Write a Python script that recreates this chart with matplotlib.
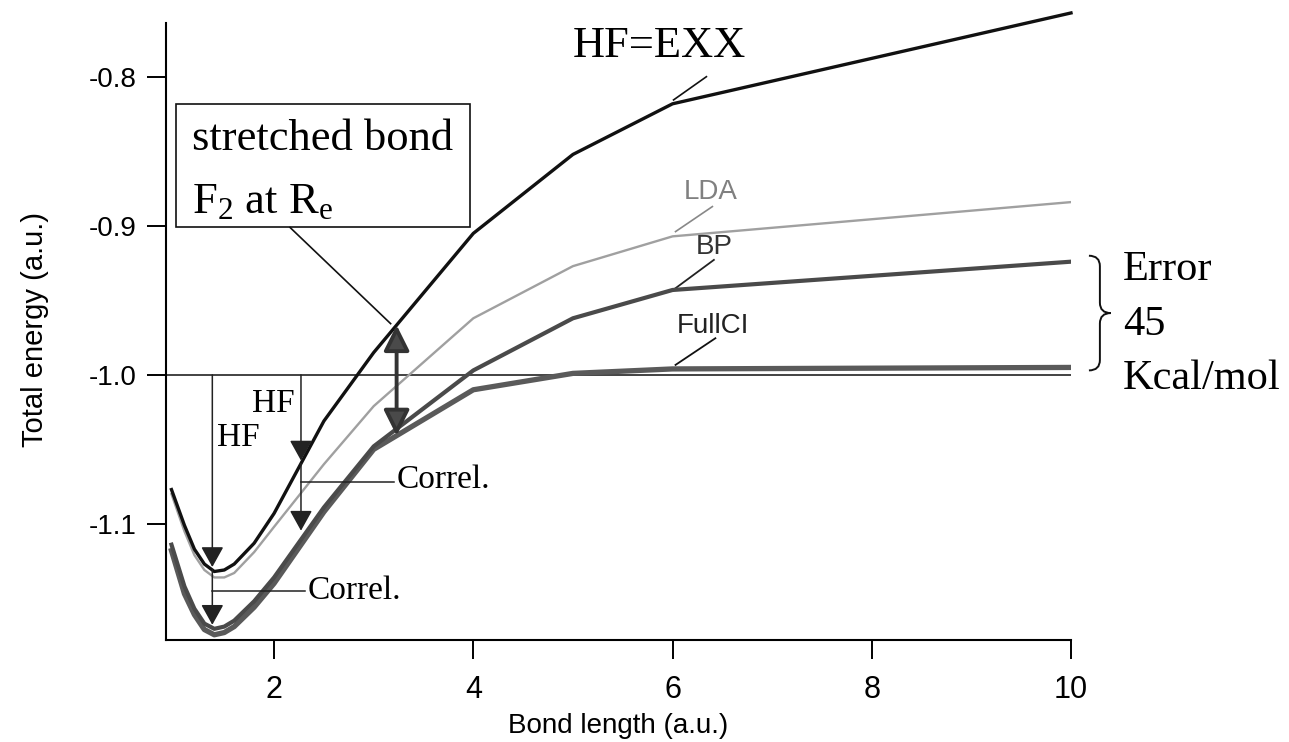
import numpy as np
import matplotlib
matplotlib.use('Agg')
import matplotlib.pyplot as plt
from matplotlib.path import Path
from matplotlib.patches import PathPatch, Rectangle

plt.rcParams['axes.unicode_minus'] = False
plt.rcParams['mathtext.fontset'] = 'custom'
plt.rcParams['mathtext.rm'] = 'Liberation Serif'
plt.rcParams['mathtext.it'] = 'Liberation Serif:italic'

# ---------------- data ----------------
bond_length = [0.97, 1.1, 1.2, 1.3, 1.4, 1.5, 1.6, 1.8, 2.0, 2.5, 3.0, 4.0, 5.0, 6.0, 10.0]
e_hf     = [-1.077, -1.101, -1.117, -1.127, -1.132, -1.131, -1.127, -1.113, -1.093, -1.031, -0.985, -0.905, -0.852, -0.818, -0.757]
e_lda    = [-1.080, -1.105, -1.121, -1.131, -1.136, -1.136, -1.133, -1.119, -1.102, -1.060, -1.021, -0.962, -0.927, -0.907, -0.884]
e_bp     = [-1.114, -1.142, -1.157, -1.167, -1.1705, -1.169, -1.165, -1.152, -1.136, -1.089, -1.048, -0.997, -0.962, -0.943, -0.924]
e_fullci = [-1.118, -1.147, -1.161, -1.171, -1.1745, -1.173, -1.169, -1.156, -1.140, -1.092, -1.050, -1.010, -0.999, -0.996, -0.995]

x_ticks = [2, 4, 6, 8, 10]
x_tick_labels = ['2', '4', '6', '8', '10']
y_ticks = [-1.1, -1.0, -0.9, -0.8]
y_tick_labels = ['-1.1', '-1.0', '-0.9', '-0.8']

dissociation_limit = -1.0
x_hf_arrow_eq = 1.38       # vertical HF / Correl. arrows at equilibrium
x_hf_arrow_mid = 2.27      # vertical HF / Correl. arrows at medium distance
x_stretched = 3.23         # double arrow (stretched bond)

SANS = 'Liberation Sans'
SERIF = 'Liberation Serif'

# ---------------- figure ----------------
W, H = 1289, 742
fig = plt.figure(figsize=(W / 100, H / 100), dpi=100)
ax = fig.add_axes([166 / W, 102 / H, 905 / W, 634.5 / H])
ax.set_xlim(0.915, 10.0)
ax.set_ylim(-1.178, -0.752)

for s in ['top', 'right']:
    ax.spines[s].set_visible(False)
ax.spines['left'].set_bounds(-1.178, -0.764)
ax.spines['left'].set_linewidth(1.5)
ax.spines['bottom'].set_linewidth(1.5)

ax.set_xticks(x_ticks)
ax.set_xticklabels(x_tick_labels, fontsize=22, family=SANS)
ax.set_yticks(y_ticks)
ax.set_yticklabels(y_tick_labels, fontsize=20, family=SANS)
ax.tick_params(axis='x', direction='out', length=14, width=1.4, pad=11)
ax.tick_params(axis='y', direction='out', length=14, width=1.4, pad=7)

ax.set_xlabel('Bond length (a.u.)', fontsize=20, family=SANS)
ax.xaxis.set_label_coords(0.5, -0.115)
ax.set_ylabel('Total energy (a.u.)', fontsize=21, family=SANS)
ax.yaxis.set_label_coords(-0.129, 0.489)

x = np.array(bond_length)
hf = np.array(e_hf)
lda = np.array(e_lda)
bp = np.array(e_bp)
fci = np.array(e_fullci)

# reference line at -1.0
ax.plot([0.915, 10.0], [dissociation_limit, dissociation_limit], color='#222222', lw=1.2, zorder=2)

# curves
ax.plot(x, fci, color='#5a5a5a', lw=3.8, solid_joinstyle='round', zorder=3)
ax.plot(x, bp, color='#4a4a4a', lw=3.0, solid_joinstyle='round', zorder=3)
ax.plot(x, lda, color='#a0a0a0', lw=1.7, solid_joinstyle='round', zorder=3)
ax.plot(x, hf, color='#111111', lw=2.4, solid_joinstyle='round', zorder=4, clip_on=False)

head = dict(arrowstyle='-|>,head_length=0.45,head_width=0.25', mutation_scale=28,
            color='#222222', lw=1.1, shrinkA=0, shrinkB=0)

def varrow(xp, y0, y1):
    ax.annotate('', xy=(xp, y1), xytext=(xp, y0),
                arrowprops=dict(head, facecolor='#4a4a4a', edgecolor='#222222'), zorder=6)

# equilibrium arrows
y_hf_eq = np.interp(x_hf_arrow_eq, x, hf)
y_bp_eq = np.interp(x_hf_arrow_eq, x, bp)
varrow(x_hf_arrow_eq, dissociation_limit, y_hf_eq + 0.002)
varrow(x_hf_arrow_eq, y_hf_eq, y_bp_eq + 0.002)
# medium distance arrows
y_hf_mid = np.interp(x_hf_arrow_mid, x, hf)
y_bp_mid = np.interp(x_hf_arrow_mid, x, bp)
varrow(x_hf_arrow_mid, dissociation_limit, y_hf_mid + 0.002)
varrow(x_hf_arrow_mid, y_hf_mid, y_bp_mid + 0.006)

# stretched double arrow
y_hf_st = np.interp(x_stretched, x, hf)
y_fci_st = np.interp(x_stretched, x, fci)
ax.annotate('', xy=(x_stretched, y_hf_st), xytext=(x_stretched, y_fci_st),
            arrowprops=dict(arrowstyle='<|-|>,head_length=0.6,head_width=0.3', mutation_scale=26,
                            facecolor='#4a4a4a', edgecolor='#333333', lw=2.8, shrinkA=0, shrinkB=0),
            zorder=6)

# box with pointer
ax.add_patch(Rectangle((1.012, -0.901), 2.958, 0.083, facecolor='white', edgecolor='#111111',
                       lw=1.2, zorder=5))
ax.text(1.173, -0.849, 'stretched bond', fontsize=32, family=SERIF, va='baseline', zorder=6)
ax.text(1.173, -0.8915, r'F$_\mathrm{2}$ at R$_\mathrm{e}$', fontsize=32, family=SERIF,
        va='baseline', zorder=6)
ax.plot([2.16, x_stretched - 0.06], [-0.901, y_hf_st + 0.001], color='#111111', lw=1.2, zorder=6)

# HF labels
ax.text(1.78, -1.0248, 'HF', fontsize=24, family=SERIF, va='baseline')
ax.text(1.425, -1.048, 'HF', fontsize=24, family=SERIF, va='baseline')

# Correl. labels with leader lines
ax.plot([x_hf_arrow_mid, 3.20], [-1.0716, -1.0716], color='#222222', lw=1.1, zorder=5)
ax.text(3.233, -1.0705, 'Correl.', fontsize=24, family=SERIF, va='center')
ax.plot([x_hf_arrow_eq, 2.31], [-1.1448, -1.1448], color='#222222', lw=1.1, zorder=5)
ax.text(2.34, -1.145, 'Correl.', fontsize=24, family=SERIF, va='center')

# curve labels with leaders
ax.plot([6.01, 6.34], [-0.8154, -0.7998], color='#111111', lw=1.2)
ax.text(5.0, -0.7866, 'HF=EXX', fontsize=32, family=SERIF, va='baseline')
ax.plot([6.03, 6.40], [-0.9038, -0.887], color='#888888', lw=1.2)
ax.text(6.11, -0.8819, 'LDA', fontsize=20, family=SANS, color='#808080', va='baseline')
ax.plot([6.03, 6.415], [-0.9418, -0.9228], color='#222222', lw=1.3)
ax.text(6.23, -0.9188, 'BP', fontsize=20, family=SANS, color='#333333', va='baseline')
ax.plot([6.03, 6.43], [-0.9933, -0.9754], color='#111111', lw=1.3)
ax.text(6.04, -0.972, 'FullCI', fontsize=20, family=SANS, color='#222222', va='baseline')

# brace between BP and FullCI at the right end
ytop = bp[-1] + 0.004
ybot = fci[-1] - 0.002
ym = 0.5 * (ytop + ybot)
x0, x1, xt = 10.18, 10.29, 10.40
d, d2 = 0.007, 0.007
verts = [(x0, ytop), (x1, ytop), (x1, ytop - d),
         (x1, ym + d2),
         (x1, ym), (xt, ym),
         (x1, ym), (x1, ym - d2),
         (x1, ybot + d),
         (x1, ybot), (x0, ybot)]
codes = [Path.MOVETO, Path.CURVE3, Path.CURVE3,
         Path.LINETO,
         Path.CURVE3, Path.CURVE3,
         Path.CURVE3, Path.CURVE3,
         Path.LINETO,
         Path.CURVE3, Path.CURVE3]
ax.add_patch(PathPatch(Path(verts, codes), facecolor='none', edgecolor='#111111', lw=1.4,
                       clip_on=False))

error_lines = ['Error', '45', 'Kcal/mol']
error_baselines = [-0.9362, -0.9732, -1.0096]
for txt, yb in zip(error_lines, error_baselines):
    ax.text(10.52, yb, txt, fontsize=30.5, family=SERIF, va='baseline', clip_on=False)

fig.savefig('out.png', dpi=100)
